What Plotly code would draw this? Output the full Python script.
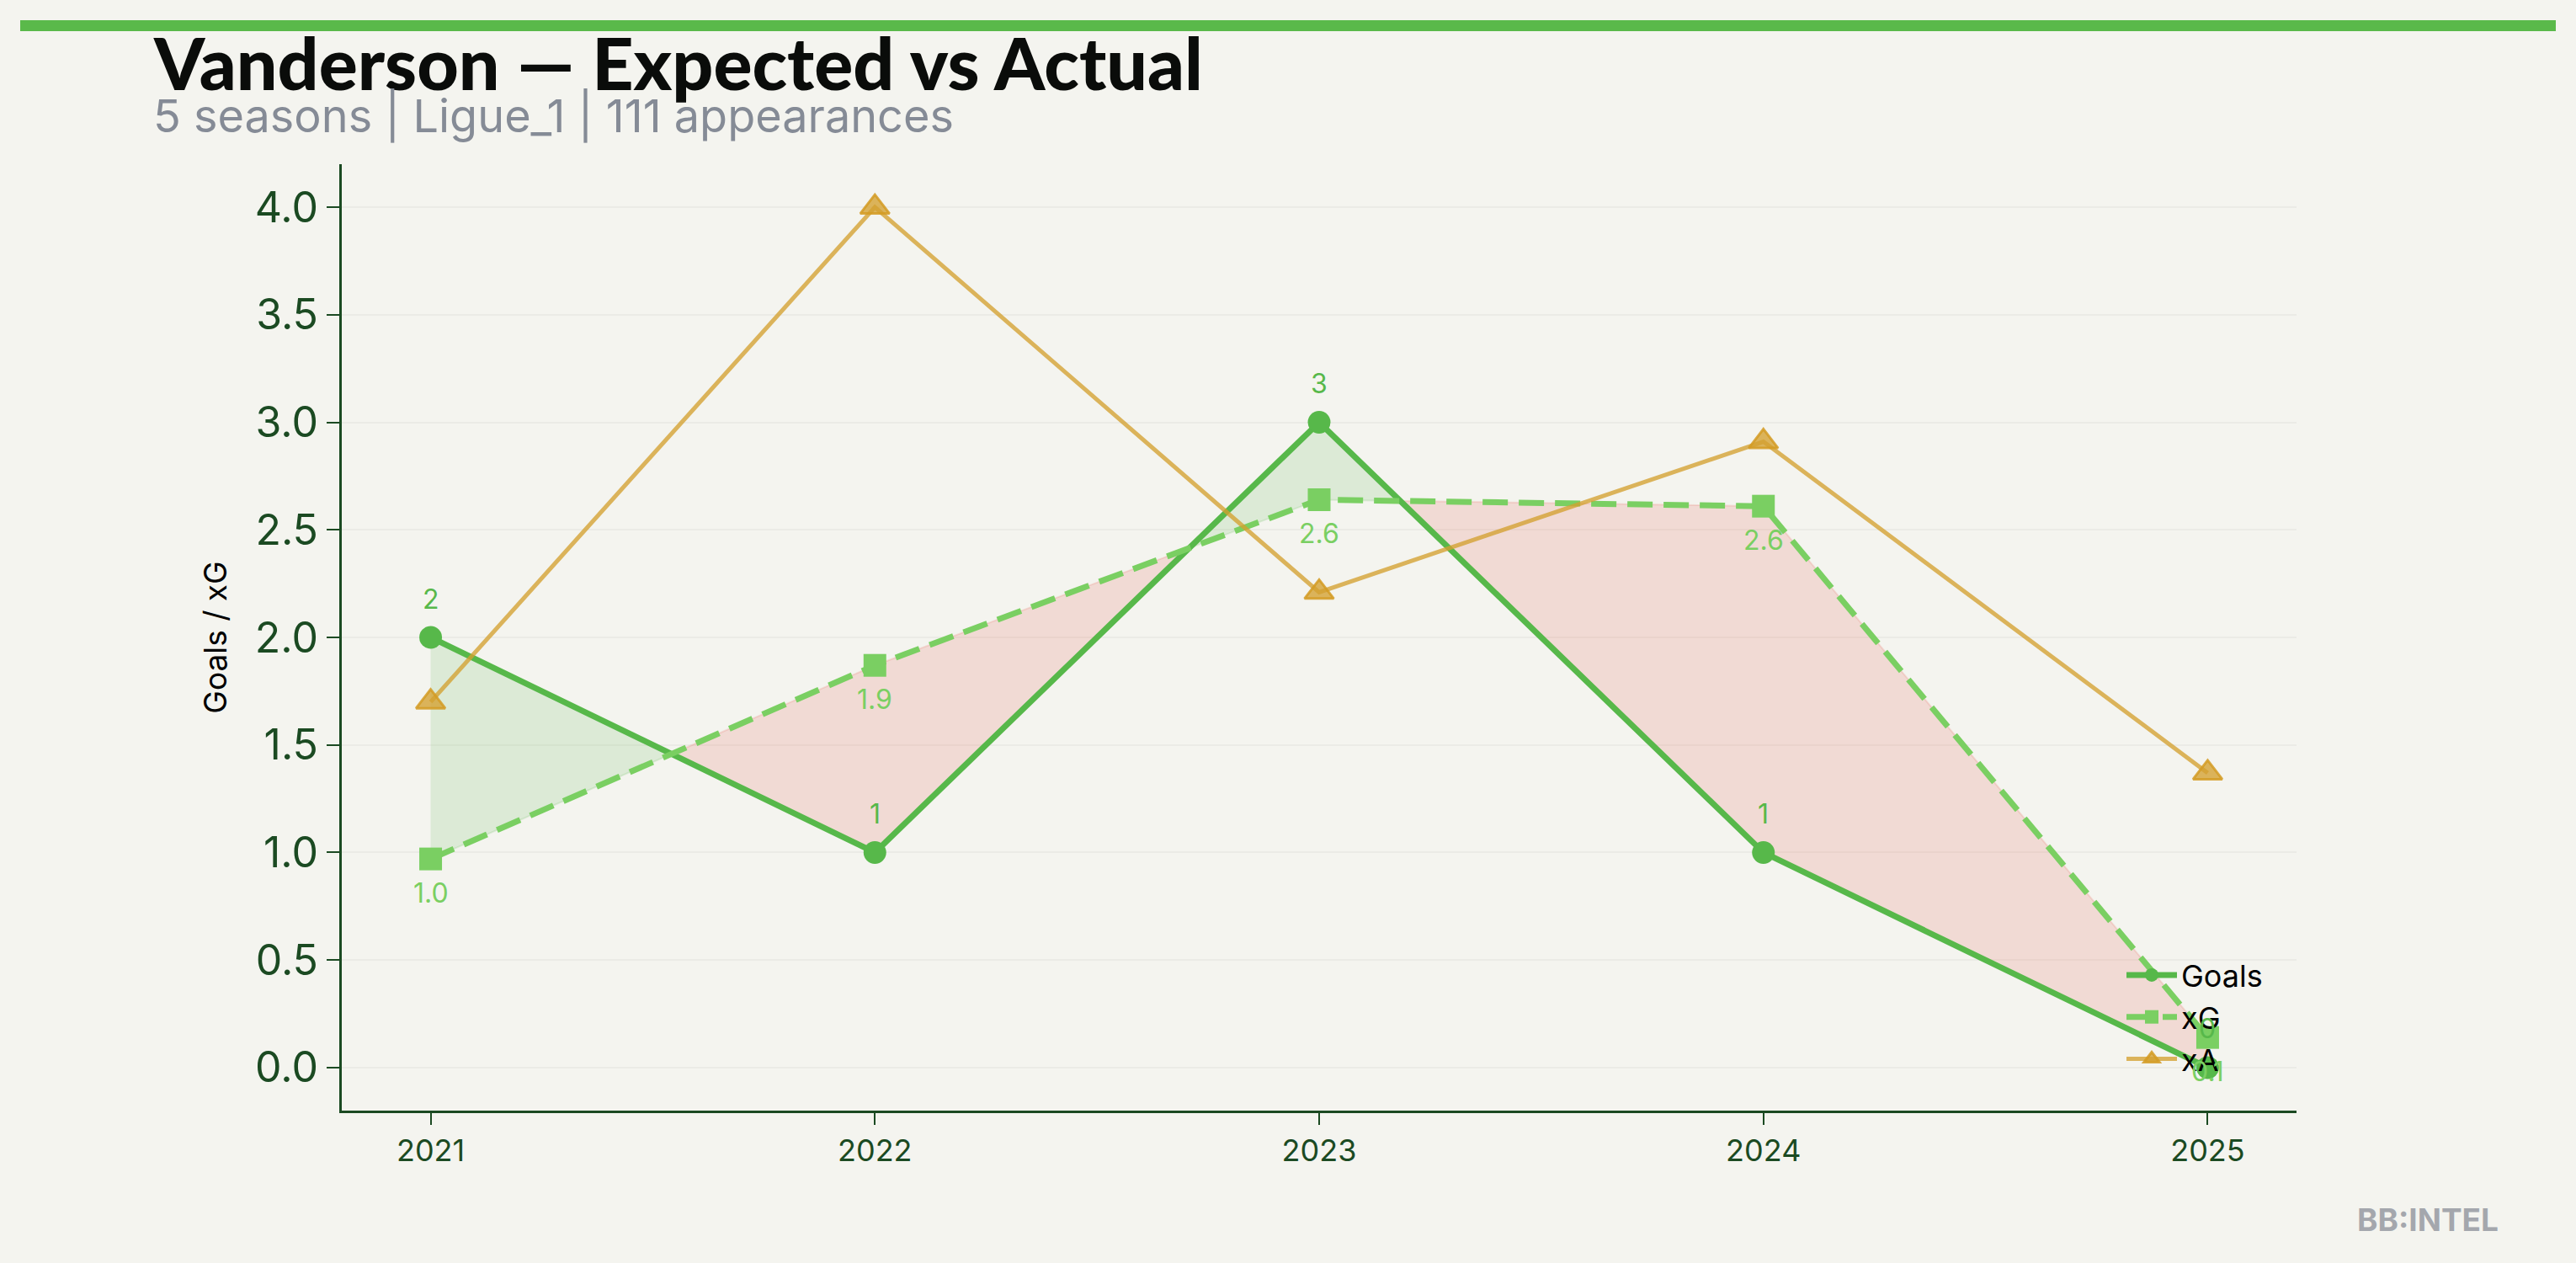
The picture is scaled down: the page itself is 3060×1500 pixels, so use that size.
import plotly.graph_objects as go

# ---------------- data ----------------
seasons = [2021, 2022, 2023, 2024, 2025]
season_labels = ["2021", "2022", "2023", "2024", "2025"]
goals = [2, 1, 3, 1, 0]
xg = [0.97, 1.87, 2.64, 2.61, 0.14]
xa = [1.70, 4.00, 2.21, 2.91, 1.37]
y_ticks = [0.0, 0.5, 1.0, 1.5, 2.0, 2.5, 3.0, 3.5, 4.0]
y_tick_labels = ["0.0", "0.5", "1.0", "1.5", "2.0", "2.5", "3.0", "3.5", "4.0"]

title_text = "Vanderson — Expected vs Actual"
subtitle_text = "5 seasons | Ligue_1 | 111 appearances"
y_title = "Goals / xG"
watermark = "BB:INTEL"

# ---------------- styles ----------------
BG = "#f4f4ef"
AXIS = "#1b4a22"
C_GOALS = "#57b84a"
C_XG = "#7acf62"
C_XA = "rgba(212,160,48,0.78)"
C_XA_EDGE = "rgba(212,155,35,0.85)"
FILL_POS = "rgba(86,184,74,0.15)"
FILL_NEG = "rgba(231,76,60,0.15)"
FONT = "Inter"

W, H = 3060, 1500
ML, MR, MT, MB = 406, 332, 195, 181
PW = W - ML - MR
PH = H - MT - MB


def px_to_paper_x(px):
    return (px - ML) / PW


def px_to_paper_y(py):
    return (H - MB - py) / PH


# ---------------- fill regions between goals and xG ----------------
def regions(x, a, b):
    pts = []
    n = len(x)
    for i in range(n):
        pts.append((x[i], a[i], b[i]))
        if i < n - 1:
            d0 = a[i] - b[i]
            d1 = a[i + 1] - b[i + 1]
            if d0 * d1 < 0:
                t = d0 / (d0 - d1)
                xc = x[i] + t * (x[i + 1] - x[i])
                yc = a[i] + t * (a[i + 1] - a[i])
                pts.append((xc, yc, yc))
    runs = []
    cur = []
    for p in pts:
        d = p[1] - p[2]
        cur.append(p)
        if d == 0 and len(cur) > 1:
            runs.append(cur)
            cur = [p]
    if len(cur) > 1:
        runs.append(cur)
    out = []
    for r in runs:
        s = sum(p[1] - p[2] for p in r)
        xs = [p[0] for p in r] + [p[0] for p in reversed(r)]
        ys = [p[1] for p in r] + [p[2] for p in reversed(r)]
        out.append((s >= 0, xs, ys))
    return out


fig = go.Figure()

for pos, xs, ys in regions(seasons, goals, xg):
    col = FILL_POS if pos else FILL_NEG
    fig.add_trace(go.Scatter(
        x=xs, y=ys, mode="lines", fill="toself", fillcolor=col,
        line=dict(color=col, width=2), hoverinfo="skip", showlegend=False,
    ))

fig.add_trace(go.Scatter(
    x=seasons, y=goals, name="Goals", mode="lines+markers",
    line=dict(color=C_GOALS, width=7),
    marker=dict(symbol="circle", size=27, color=C_GOALS),
    legendgroup="g",
))
fig.add_trace(go.Scatter(
    x=seasons, y=xg, name="xG", mode="lines+markers",
    line=dict(color=C_XG, width=7, dash="30px,13px"),
    marker=dict(symbol="square", size=27, color=C_XG),
    legendgroup="xg",
))
fig.add_trace(go.Scatter(
    x=seasons, y=xa, name="xA", mode="lines+markers",
    line=dict(color=C_XA, width=5),
    marker=dict(symbol="triangle-up", size=30, color=C_XA,
                line=dict(color=C_XA_EDGE, width=3)),
    legendgroup="xa",
))

annotations = []
for s, g in zip(seasons, goals):
    annotations.append(dict(
        x=s, y=g, xref="x", yref="y", text=f"{g:d}", showarrow=False,
        yshift=46, font=dict(family=FONT, size=32, color=C_GOALS),
    ))
for s, v in zip(seasons, xg):
    annotations.append(dict(
        x=s, y=v, xref="x", yref="y", text=f"{v:.1f}", showarrow=False,
        yshift=-40, font=dict(family=FONT, size=32, color=C_XG),
    ))

annotations.append(dict(
    xref="paper", yref="paper", x=px_to_paper_x(180), y=px_to_paper_y(74),
    xanchor="left", yanchor="middle", text=title_text, showarrow=False,
    font=dict(family="Lato", size=86, color="#0a0c0a", weight=900),
))
annotations.append(dict(
    xref="paper", yref="paper", x=px_to_paper_x(180), y=px_to_paper_y(137),
    xanchor="left", yanchor="middle", text=subtitle_text, showarrow=False,
    font=dict(family=FONT, size=54, color="#858b96"),
))
annotations.append(dict(
    xref="paper", yref="paper", x=px_to_paper_x(2970), y=px_to_paper_y(1448),
    xanchor="right", yanchor="middle", text=watermark, showarrow=False,
    font=dict(family=FONT, size=37, color="#a4a7ad", weight=700),
))

shapes = [dict(
    type="rect", xref="paper", yref="paper",
    x0=px_to_paper_x(24), x1=px_to_paper_x(3036),
    y0=px_to_paper_y(37), y1=px_to_paper_y(24),
    fillcolor="#5ab94a", line=dict(width=0), layer="above",
)]

fig.update_layout(
    width=W, height=H,
    margin=dict(l=ML, r=MR, t=MT, b=MB, pad=0),
    paper_bgcolor=BG, plot_bgcolor=BG,
    showlegend=True,
    legend=dict(
        x=px_to_paper_x(2521), y=px_to_paper_y(1128),
        xanchor="left", yanchor="top",
        bgcolor="rgba(0,0,0,0)", borderwidth=0,
        font=dict(family=FONT, size=36, color="#000000"),
        itemwidth=60, tracegroupgap=10, traceorder="normal",
    ),
    annotations=annotations,
    shapes=shapes,
    xaxis=dict(
        range=[2020.8, 2025.2], tickvals=seasons, ticktext=season_labels,
        showline=True, linecolor=AXIS, linewidth=3,
        ticks="outside", ticklen=14, tickwidth=2, tickcolor=AXIS,
        tickfont=dict(family=FONT, size=36, color=AXIS),
        showgrid=False, zeroline=False,
    ),
    yaxis=dict(
        range=[-0.2, 4.2], tickvals=y_ticks, ticktext=y_tick_labels,
        showline=True, linecolor=AXIS, linewidth=3,
        ticks="outside", ticklen=15, tickwidth=2, tickcolor=AXIS,
        tickfont=dict(family=FONT, size=50, color=AXIS),
        showgrid=True, gridcolor="rgba(0,0,0,0.035)", gridwidth=2,
        zeroline=False,
        title=dict(text=y_title, font=dict(family=FONT, size=37, color="#000000"), standoff=22),
    ),
    hovermode=False,
)

fig.write_html("out.html", config={"displayModeBar": False},
               post_script="document.body.style.margin='0';")
